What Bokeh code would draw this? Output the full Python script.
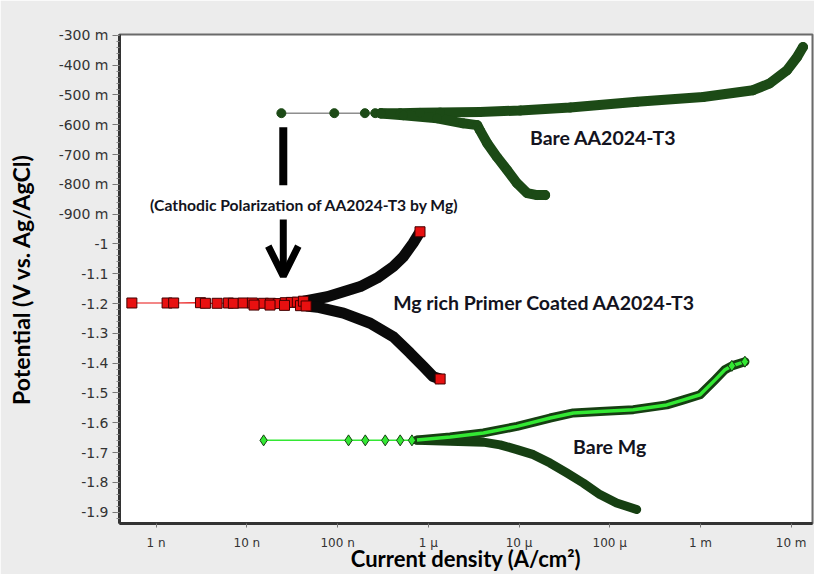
from bokeh.plotting import figure
from bokeh.models import (Range1d, FixedTicker, CustomJSTickFormatter, Label,
                          Arrow, OpenHead, BoxAnnotation)
from bokeh.embed import file_html
from bokeh.resources import INLINE

# ---------------- data ----------------
x_ticks = [1e-9, 1e-8, 1e-7, 1e-6, 1e-5, 1e-4, 1e-3, 1e-2]
x_tick_labels = ["1 n", "10 n", "100 n", "1 µ", "10 µ", "100 µ", "1 m", "10 m"]
y_ticks = [-0.3, -0.4, -0.5, -0.6, -0.7, -0.8, -0.9, -1.0, -1.1, -1.2,
           -1.3, -1.4, -1.5, -1.6, -1.7, -1.8, -1.9]
y_tick_labels = ["-300 m", "-400 m", "-500 m", "-600 m", "-700 m", "-800 m",
                 "-900 m", "-1", "-1.1", "-1.2", "-1.3", "-1.4", "-1.5",
                 "-1.6", "-1.7", "-1.8", "-1.9"]

# Bare AA2024-T3 (current density A/cm2, potential V)
aa_sparse_i = [2.4e-8, 9.2e-8, 2.0e-7, 2.6e-7]
aa_sparse_E = [-0.561, -0.561, -0.561, -0.561]
aa_anodic_i = [3.0e-7, 4.9e-7, 8.1e-7, 1.35e-6, 3.7e-6, 1.03e-5, 3.66e-5,
               2.0e-4, 1.07e-3, 3.8e-3, 5.8e-3, 9.0e-3, 1.16e-2, 1.35e-2]
aa_anodic_E = [-0.561, -0.561, -0.560, -0.559, -0.557, -0.552, -0.542,
               -0.523, -0.507, -0.484, -0.461, -0.417, -0.373, -0.339]
aa_cathodic_i = [3.0e-7, 5.3e-7, 1.25e-6, 2.42e-6, 3.46e-6, 3.7e-6, 4.46e-6,
                 5.74e-6, 7.4e-6, 9.5e-6, 1.23e-5, 1.58e-5, 1.94e-5]
aa_cathodic_E = [-0.562, -0.568, -0.578, -0.595, -0.601, -0.618, -0.662,
                 -0.709, -0.752, -0.796, -0.829, -0.836, -0.836]

# Mg rich primer coated AA2024-T3
mp_sparse_i = [5.4e-10, 1.32e-9, 1.56e-9, 3.08e-9, 3.49e-9, 4.7e-9, 6.25e-9,
               7.1e-9, 9.1e-9, 1.15e-8, 1.52e-8, 1.82e-8, 2.22e-8, 2.65e-8,
               3.09e-8, 3.6e-8, 1.2e-8, 1.8e-8, 2.6e-8, 3.9e-8]
mp_sparse_E = [-1.198, -1.198, -1.198, -1.197, -1.199, -1.199, -1.198,
               -1.199, -1.198, -1.198, -1.199, -1.199, -1.200, -1.197,
               -1.196, -1.195, -1.205, -1.205, -1.206, -1.207]
mp_anodic_i = [4.2e-8, 5.0e-8, 7.7e-8, 1.16e-7, 1.78e-7, 2.74e-7, 4.1e-7,
               5.3e-7, 6.8e-7, 8.1e-7]
mp_anodic_E = [-1.192, -1.188, -1.177, -1.160, -1.143, -1.114, -1.076,
               -1.043, -0.997, -0.959]
mp_cathodic_i = [4.5e-8, 5.97e-8, 1.16e-7, 2.29e-7, 4.1e-7, 6.3e-7, 8.8e-7,
                 1.13e-6, 1.35e-6]
mp_cathodic_E = [-1.208, -1.212, -1.232, -1.266, -1.311, -1.366, -1.411,
                 -1.445, -1.453]

# Bare Mg
bm_sparse_i = [1.53e-8, 1.32e-7, 2.02e-7, 3.35e-7, 4.9e-7, 6.6e-7]
bm_sparse_E = [-1.659, -1.659, -1.659, -1.659, -1.659, -1.659]
bm_anodic_i = [7.5e-7, 1.74e-6, 4.05e-6, 9.5e-6, 2.2e-5, 3.97e-5, 7.8e-5,
               1.82e-4, 4.25e-4, 6.5e-4, 9.9e-4, 1.45e-3, 1.86e-3, 2.22e-3,
               3.09e-3]
bm_anodic_E = [-1.658, -1.648, -1.634, -1.612, -1.584, -1.567, -1.562,
               -1.556, -1.540, -1.523, -1.506, -1.456, -1.422, -1.409, -1.395]
bm_cathodic_i = [7.5e-7, 1.74e-6, 4.05e-6, 6.2e-6, 9.5e-6, 1.44e-5, 2.2e-5,
                 3.36e-5, 5.1e-5, 7.8e-5, 1.19e-4, 1.98e-4]
bm_cathodic_E = [-1.659, -1.662, -1.665, -1.674, -1.690, -1.707, -1.735,
                 -1.768, -1.802, -1.841, -1.869, -1.891]

# ---------------- styling ----------------
AA_GREEN = "#1c4a16"
MP_RED = "#e81010"
MP_DARK = "#0a0a0a"
BM_GREEN = "#33e833"
BM_DARK = "#163f12"
TXT = "#131320"
FONT = "Lato"

p = figure(width=814, height=574, x_axis_type="log",
           x_range=Range1d(10 ** -9.404, 10 ** -1.765),
           y_range=Range1d(-1.938, -0.297),
           output_backend="svg", toolbar_location=None,
           min_border_left=119, min_border_right=2,
           min_border_top=34, min_border_bottom=50)

p.background_fill_color = "white"
p.border_fill_color = "#ececec"
p.outline_line_color = "#6a6a6a"
p.outline_line_width = 2
p.grid.visible = False

# white strips outside the grey panel
p.add_layout(BoxAnnotation(left=1e-14, right=10 ** -10.186, bottom=-5, top=5,
                           fill_color="white", fill_alpha=1, line_color=None,
                           level="underlay"))
p.add_layout(BoxAnnotation(left=1e-14, right=1, bottom=-5, top=-2.0285,
                           fill_color="white", fill_alpha=1, line_color=None,
                           level="underlay"))
p.add_layout(BoxAnnotation(left=1e-14, right=1, bottom=-0.2233, top=5,
                           fill_color="white", fill_alpha=1, line_color=None,
                           level="underlay"))

# axes
p.xaxis.ticker = FixedTicker(ticks=x_ticks)
p.xaxis.formatter = CustomJSTickFormatter(
    args=dict(tvals=x_ticks, tlabels=x_tick_labels),
    code="""for (let i = 0; i < tvals.length; i++) {
              if (Math.abs(tick - tvals[i]) <= 1e-6 * Math.abs(tvals[i])) return tlabels[i];
            } return '';""")
minor_y = [round(-0.30 - 0.02 * k, 2) for k in range(0, 83)]
p.yaxis.ticker = FixedTicker(ticks=y_ticks, minor_ticks=minor_y)
p.yaxis.formatter = CustomJSTickFormatter(
    args=dict(tvals=y_ticks, tlabels=y_tick_labels),
    code="""for (let i = 0; i < tvals.length; i++) {
              if (Math.abs(tick - tvals[i]) <= 1e-6) return tlabels[i];
            } return '';""")

for ax in (p.xaxis, p.yaxis):
    ax.axis_line_color = "#333333"
    ax.axis_line_width = 3
    ax.major_tick_line_color = "#777777"
    ax.major_tick_in = 0
    ax.major_label_text_color = "#333333"
    ax.major_label_text_font = "DejaVu Sans"
    ax.axis_label_text_font = FONT
    ax.axis_label_text_font_style = "bold"
    ax.axis_label_text_color = "black"

p.xaxis.major_tick_out = 4
p.xaxis.minor_tick_line_color = None
p.xaxis.major_label_text_font_size = "12px"
p.xaxis.major_label_standoff = 8
p.xaxis.axis_label = "Current density (A/cm²)"
p.xaxis.axis_label_text_font_size = "22px"
p.xaxis.axis_label_standoff = -8

p.yaxis.major_tick_out = 7
p.yaxis.minor_tick_out = 3
p.yaxis.minor_tick_in = 0
p.yaxis.minor_tick_line_color = "#888888"
p.yaxis.major_label_text_font_size = "14px"
p.yaxis.major_label_standoff = 4
p.yaxis.axis_label = "Potential (V vs. Ag/AgCl)"
p.yaxis.axis_label_text_font_size = "23px"
p.yaxis.axis_label_standoff = 21

# ---------- Bare AA2024-T3 ----------
p.line(aa_sparse_i + aa_anodic_i[:2], aa_sparse_E + aa_anodic_E[:2],
       line_color="#555555", line_width=1)
p.line(aa_anodic_i, aa_anodic_E, line_color=AA_GREEN, line_width=10,
       line_join="round", line_cap="round")
p.line(aa_cathodic_i, aa_cathodic_E, line_color=AA_GREEN, line_width=10,
       line_join="round", line_cap="round")
p.scatter(aa_sparse_i + aa_anodic_i + aa_cathodic_i,
          aa_sparse_E + aa_anodic_E + aa_cathodic_E,
          marker="circle", size=9, fill_color=AA_GREEN, line_color=AA_GREEN)

# ---------- Mg rich primer ----------
p.line(mp_sparse_i[:16], mp_sparse_E[:16], line_color=MP_RED, line_width=1.2)
p.line(mp_anodic_i, mp_anodic_E, line_color=MP_DARK, line_width=11,
       line_join="round")
p.line(mp_cathodic_i, mp_cathodic_E, line_color=MP_DARK, line_width=11,
       line_join="round")
p.scatter(mp_sparse_i + [mp_anodic_i[0], mp_anodic_i[-1], mp_cathodic_i[0], mp_cathodic_i[-1]],
          mp_sparse_E + [mp_anodic_E[0], mp_anodic_E[-1], mp_cathodic_E[0], mp_cathodic_E[-1]],
          marker="square", size=10, fill_color=MP_RED, line_color="#400000",
          line_width=1)

# ---------- Bare Mg ----------
p.line(bm_sparse_i + bm_anodic_i[:1], bm_sparse_E + bm_anodic_E[:1],
       line_color=BM_GREEN, line_width=1.5)
p.line(bm_cathodic_i, bm_cathodic_E, line_color=BM_DARK, line_width=9,
       line_join="round", line_cap="round")
p.line(bm_anodic_i, bm_anodic_E, line_color=BM_DARK, line_width=9,
       line_join="round", line_cap="round")
p.line(bm_anodic_i, bm_anodic_E, line_color=BM_GREEN, line_width=3.5,
       line_join="round")
p.scatter(bm_sparse_i + [bm_anodic_i[-1], bm_anodic_i[-2]],
          bm_sparse_E + [bm_anodic_E[-1], bm_anodic_E[-2]],
          marker="diamond", size=11, fill_color=BM_GREEN, line_color=BM_DARK,
          line_width=1)

# ---------- annotations ----------
ARROW_X = 2.52e-8
p.add_layout(Arrow(end=None, x_start=ARROW_X, y_start=-0.608, x_end=ARROW_X,
                   y_end=-0.803, line_width=8, line_color="black"))
p.add_layout(Arrow(end=OpenHead(size=30, line_width=7, line_color="black"),
                   x_start=ARROW_X, y_start=-0.918, x_end=ARROW_X,
                   y_end=-1.108, line_width=7, line_color="black"))

def add_text(x, y, text, size, align="left"):
    p.add_layout(Label(x=x, y=y, text=text, text_font=FONT,
                       text_font_style="bold", text_font_size=size,
                       text_color=TXT, text_align=align,
                       text_baseline="middle"))

add_text(4.52e-8, -0.8695, "(Cathodic Polarization of  AA2024-T3 by Mg)", "15.7px", "center")
add_text(1.32e-5, -0.6417, "Bare AA2024-T3", "19.5px")
add_text(4.1e-7, -1.198, "Mg rich Primer Coated AA2024-T3", "19.5px")
add_text(3.94e-5, -1.680, "Bare Mg", "19.5px")

open("out.html", "w").write(file_html(p, INLINE))
